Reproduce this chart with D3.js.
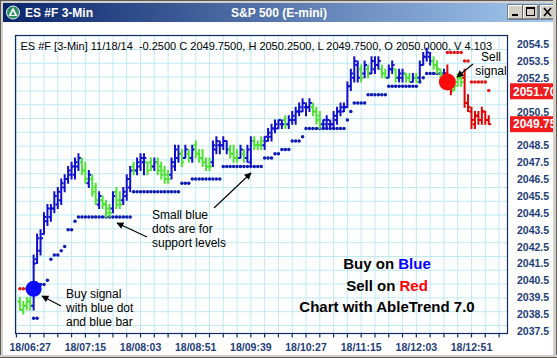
<!DOCTYPE html>
<html><head><meta charset="utf-8">
<script src="https://cdn.jsdelivr.net/npm/d3@7"></script>
<style>html,body{margin:0;padding:0;background:#fff;overflow:hidden}</style>
</head><body><svg id="c" width="557" height="358"></svg>
<script>
// ---------- data ----------
const windowTitle = "ES #F 3-Min";
const chartTitle = "S&P 500 (E-mini)";
const infoLine = "ES #F [3-Min] 11/18/14  -0.2500 C 2049.7500, H 2050.2500, L 2049.7500, O 2050.0000, V 4.103";
const startMinute = 378;   // first bar 06:18
const barStep = 3;         // 3-minute bars
const timeLabels = ["18/06:27","18/07:15","18/08:03","18/08:51","18/09:39","18/10:27","18/11:15","18/12:03","18/12:51"];
const priceLabels = [2054.5,2053.5,2052.5,2050.5,2048.5,2047.5,2046.5,2045.5,2044.5,2043.5,2042.5,2041.5,2040.5,2039.5,2038.5,2037.5];
const priceTags = [2051.70, 2049.75];
const priceTagText = ["2051.70","2049.75"];

const opens = [
2039.25,2038.75,2039.0,2039.25,2039.0,2041.75,2042.25,2043.25,2044.0,2044.25,
2044.75,2045.0,2045.25,2046.0,2046.5,2046.75,2046.75,2047.25,2047.5,2047.0,
2046.25,2046.5,2046.0,2045.0,2045.25,2045.0,2044.75,2044.75,2045.75,2045.25,
2045.25,2045.5,2046.0,2047.25,2047.0,2047.25,2047.5,2047.5,2047.5,2047.25,
2047.5,2047.25,2047.0,2046.75,2046.75,2047.25,2047.75,2048.0,2047.75,2048.0,
2047.75,2048.5,2048.0,2047.75,2047.5,2047.25,2047.5,2048.25,2048.5,2048.5,
2048.75,2048.25,2048.0,2047.75,2047.75,2048.0,2047.75,2047.5,2048.75,2048.5,
2048.5,2048.5,2048.75,2049.0,2049.5,2049.5,2049.75,2050.0,2049.75,2050.0,
2050.0,2050.5,2050.5,2050.75,2050.75,2050.75,2050.5,2050.25,2049.75,2049.75,
2049.75,2049.75,2050.0,2050.5,2050.5,2050.75,2052.0,2052.5,2053.25,2053.0,
2052.75,2053.0,2052.75,2053.0,2053.25,2053.0,2052.75,2052.5,2053.0,2053.0,
2052.5,2052.5,2052.75,2052.5,2052.25,2052.5,2052.5,2053.25,2053.75,2053.75,
2053.5,2053.25,2053.0,2052.5,2052.75,2052.0,2051.75,2052.25,2052.5,2052.5,
2051.0,2050.5,2049.75,2050.25,2050.0,2050.5,2050.0];
const highs = [
2039.5,2039.25,2039.5,2039.5,2042.0,2043.25,2043.5,2044.5,2045.0,2045.0,
2045.75,2046.0,2046.5,2046.75,2047.25,2047.5,2047.75,2048.0,2047.75,2047.5,
2047.0,2046.75,2046.25,2045.75,2045.5,2045.25,2045.0,2045.75,2046.0,2045.75,
2046.0,2046.75,2047.25,2047.5,2047.75,2048.0,2048.0,2047.5,2047.75,2047.75,
2047.75,2047.5,2047.25,2047.0,2047.75,2048.5,2048.5,2048.25,2048.5,2048.25,
2048.5,2048.75,2048.25,2048.25,2047.75,2047.75,2048.75,2049.0,2048.75,2049.0,
2048.75,2048.5,2048.5,2048.25,2048.5,2048.25,2048.5,2049.0,2049.0,2048.75,
2049.0,2049.0,2049.5,2049.75,2050.0,2050.0,2050.0,2050.25,2050.25,2050.5,
2050.75,2051.0,2051.25,2051.0,2051.25,2051.0,2050.75,2050.5,2050.0,2050.25,
2050.0,2050.5,2050.75,2051.0,2051.0,2052.25,2053.0,2053.75,2053.5,2053.25,
2053.5,2053.25,2053.75,2053.75,2053.75,2053.25,2053.0,2053.25,2053.5,2053.0,
2053.0,2053.0,2052.75,2052.75,2052.75,2052.75,2053.5,2054.0,2054.25,2054.0,
2053.75,2053.5,2053.0,2053.0,2053.25,2052.25,2052.25,2052.75,2052.75,2053.0,
2051.5,2050.75,2050.5,2050.5,2050.75,2050.5,2050.25];
const lows = [
2038.75,2038.5,2038.75,2038.75,2038.75,2041.5,2042.0,2043.25,2043.75,2044.0,
2044.5,2044.75,2045.0,2045.75,2046.25,2046.5,2046.5,2047.0,2046.75,2046.25,
2046.0,2045.5,2045.0,2044.75,2044.75,2044.25,2044.25,2044.5,2044.75,2044.75,
2045.0,2045.25,2045.75,2046.75,2046.75,2047.0,2046.75,2046.75,2047.0,2047.0,
2046.75,2046.5,2046.25,2046.25,2046.5,2047.0,2047.5,2047.25,2047.75,2047.5,
2047.5,2047.75,2047.5,2047.25,2047.0,2047.0,2047.25,2048.0,2048.0,2048.25,
2048.0,2047.75,2047.5,2047.5,2047.75,2047.5,2047.5,2047.25,2048.25,2048.25,
2048.25,2048.25,2048.75,2048.75,2049.25,2049.5,2049.5,2049.5,2049.5,2049.75,
2049.75,2050.25,2050.5,2050.25,2050.5,2050.25,2049.75,2049.5,2049.5,2049.5,
2049.5,2049.5,2049.75,2050.25,2050.5,2050.75,2051.75,2052.25,2052.25,2052.25,
2052.5,2052.5,2052.75,2052.75,2053.0,2052.5,2052.5,2052.5,2052.75,2052.25,
2052.25,2052.25,2052.25,2052.25,2052.25,2052.25,2052.25,2053.25,2053.5,2053.25,
2053.0,2052.75,2052.5,2052.25,2052.0,2051.5,2051.75,2052.0,2052.0,2050.75,
2050.5,2049.5,2049.5,2049.75,2049.75,2049.75,2049.75];
const closes = [
2038.75,2039.0,2039.25,2039.0,2041.5,2043.0,2043.0,2044.25,2044.75,2044.75,
2045.5,2045.75,2046.25,2046.5,2047.0,2047.25,2047.5,2047.75,2047.0,2046.5,
2046.75,2045.75,2045.25,2045.5,2045.0,2044.5,2044.5,2045.5,2045.0,2045.0,
2045.75,2046.5,2047.0,2047.0,2047.5,2047.75,2047.75,2047.0,2047.25,2047.5,
2047.0,2046.75,2046.5,2046.5,2047.5,2048.25,2048.0,2047.5,2048.25,2047.75,
2048.25,2048.0,2047.75,2047.5,2047.25,2047.25,2048.5,2048.75,2048.5,2048.75,
2048.25,2048.0,2047.75,2047.75,2048.25,2047.75,2048.25,2048.75,2048.5,2048.5,
2048.75,2049.0,2049.25,2049.5,2049.75,2050.0,2049.75,2049.75,2050.0,2050.25,
2050.5,2050.75,2051.0,2050.75,2051.0,2050.5,2050.0,2049.75,2050.0,2050.0,
2049.75,2050.25,2050.5,2050.75,2050.75,2052.0,2052.75,2053.5,2052.5,2052.5,
2053.25,2052.75,2053.5,2053.25,2053.5,2052.75,2052.5,2053.0,2053.25,2052.5,
2052.75,2052.75,2052.5,2052.25,2052.5,2052.25,2053.25,2053.75,2054.0,2053.5,
2053.25,2053.0,2052.75,2052.75,2052.25,2051.75,2052.0,2052.5,2052.25,2051.0,
2050.75,2050.0,2050.25,2050.0,2050.5,2050.0,2049.75];
// b = up trend (blue), g = correction (green), r = down trend (red)
const trend = "ggggbbbbbb"+"bbbbbbbbgg"+"bggbgggbgg"+"bbbgbbbggb"+"ggggbbbgbg"+
              "bgggggbbbb"+"bgggbgbbgg"+"gbbbbbbgbb"+"bbbbbgggbb"+"bbbbbbbbbg"+
              "bgbbbggbbg"+"bbggbgbbbb"+"gggbrrgggr"+"rrrrrrr";
const supportDots = [
null,null,null,null,2038.25,2038.25,2040.25,2040.25,2040.5,2041.75,
2042.0,2042.0,2042.25,2042.5,2043.5,2043.5,2044.0,2044.25,2044.25,2044.25,
2044.25,2044.25,2044.25,2044.25,2044.25,2044.25,2044.25,2044.25,2044.25,2044.25,
2044.25,2044.25,2044.25,2045.75,2045.75,2045.75,2045.75,2045.75,2045.75,2045.75,
2045.75,2045.75,2045.75,2045.75,2045.75,2045.75,2045.75,2046.25,2046.25,2046.25,
2046.5,2046.5,2046.5,2046.5,2046.5,2046.5,2046.5,2046.5,2046.5,2047.25,
2047.25,2047.25,2047.25,2047.25,2047.25,2047.25,2047.25,2047.25,2047.25,2047.25,
2047.25,2047.75,2047.75,2047.75,2048.0,2048.0,2048.25,2048.25,2048.25,2048.75,
2048.75,2048.75,2049.0,2049.5,2049.5,2049.5,2049.5,2049.5,2049.5,2049.5,
2049.5,2049.5,2049.5,2049.5,2049.5,2050.0,2050.5,2051.0,2051.0,2051.0,
2051.0,2051.5,2051.5,2051.5,2051.5,2051.5,2051.5,2052.0,2052.0,2052.0,
2052.0,2052.0,2052.0,2052.0,2052.0,2052.0,2052.25,2052.5,2052.75,2052.75,
2052.75,2052.75,2052.75,2052.75,null,null,null,null,null,null,
null,null,null,null,null,null,null];
const resistDots = [
2040.0,2040.0,2040.0,2040.0,null,null,null,null,null,null,
null,null,null,null,null,null,null,null,null,null,
null,null,null,null,null,null,null,null,null,null,
null,null,null,null,null,null,null,null,null,null,
null,null,null,null,null,null,null,null,null,null,
null,null,null,null,null,null,null,null,null,null,
null,null,null,null,null,null,null,null,null,null,
null,null,null,null,null,null,null,null,null,null,
null,null,null,null,null,null,null,null,null,null,
null,null,null,null,null,null,null,null,null,null,
null,null,null,null,null,null,null,null,null,null,
null,null,null,null,null,null,null,null,null,null,
null,null,null,null,2054.0,2054.0,2054.0,2054.0,2054.0,2053.5,
2053.5,2052.25,2052.25,2052.25,2052.25,2052.25,2051.75];
const buySignal = {bar: 4, value: 2040.0};
const sellSignal = {bar: 124, value: 2052.25};

// ---------- drawing ----------
const W = 557, H = 358;
const P = {l: 15, t: 35, r: 508, b: 333};
const FONT = "Arial, 'Liberation Sans', Helvetica, sans-serif";
const colors = {b: "#1010cc", g: "#4ee236", r: "#e00000"};
const dotBlue = "#0b1bb4", dotRed = "#e41414";
const axisColor = "#1d3d7a";

const svg = d3.select("#c");
const toMin = s => { const t = s.split("/")[1].split(":"); return +t[0]*60 + +t[1]; };
const x = d3.scaleLinear().domain([toMin(timeLabels[0]), toMin(timeLabels[timeLabels.length-1])]).range([30.2, 471.5]);
const y = d3.scaleLinear().domain([2037.5, 2054.5]).range([331, 44]);
const bx = i => x(startMinute + barStep * i);

const defs = svg.append("defs");
const grad = defs.append("linearGradient").attr("id", "tb").attr("x1", 0).attr("x2", 1);
grad.append("stop").attr("offset", 0).attr("stop-color", "#0a246a");
grad.append("stop").attr("offset", 1).attr("stop-color", "#a6caf0");
defs.append("clipPath").attr("id", "pc").append("rect")
  .attr("x", P.l).attr("y", P.t).attr("width", P.r - P.l).attr("height", P.b - P.t);
const mk = defs.append("marker").attr("id", "ah").attr("viewBox", "0 0 10 10")
  .attr("refX", 9).attr("refY", 5).attr("markerWidth", 9).attr("markerHeight", 7)
  .attr("orient", "auto").attr("markerUnits", "userSpaceOnUse");
mk.append("path").attr("d", "M0,0 L10,5 L0,10 Z").attr("fill", "#000");

// window frame
svg.append("rect").attr("width", W).attr("height", H).attr("fill", "#5c5c5c");
svg.append("rect").attr("x", 1).attr("y", 1).attr("width", W - 2).attr("height", H - 2).attr("fill", "#d4d0c8");
svg.append("rect").attr("x", 3).attr("y", 22).attr("width", W - 6).attr("height", H - 25).attr("fill", "#fff");
svg.append("rect").attr("x", 3).attr("y", 3).attr("width", W - 6).attr("height", 19).attr("fill", "url(#tb)");
// icon
svg.append("circle").attr("cx", 13).attr("cy", 12.5).attr("r", 6.5).attr("fill", "#2f8f6a").attr("stroke", "#e8f5ee").attr("stroke-width", 1);
svg.append("path").attr("d", "M13,7.5 L17.5,16 L8.5,16 Z").attr("fill", "#fff");
svg.append("path").attr("d", "M13,11 L15,15 L11,15 Z").attr("fill", "#2f8f6a");
svg.append("text").attr("x", 25).attr("y", 17).attr("fill", "#fff")
  .attr("font-family", FONT).attr("font-weight", "bold").attr("font-size", 12).text(windowTitle);
svg.append("text").attr("x", 279).attr("y", 17).attr("fill", "#fff").attr("text-anchor", "middle")
  .attr("font-family", FONT).attr("font-weight", "bold").attr("font-size", 12).text(chartTitle);
// window buttons
[[508, "min"], [523, "max"], [540, "close"]].forEach(([bx0, k]) => {
  const g = svg.append("g");
  g.append("rect").attr("x", bx0).attr("y", 5).attr("width", 15).attr("height", 14).attr("fill", "#d4d0c8")
    .attr("stroke", "#404040").attr("stroke-width", 1);
  g.append("path").attr("d", `M${bx0+0.5},${18.5} V5.5 H${bx0+14.5}`).attr("stroke", "#fff").attr("fill", "none");
  if (k === "min") g.append("rect").attr("x", bx0 + 4).attr("y", 14).attr("width", 6).attr("height", 2).attr("fill", "#000");
  if (k === "max") g.append("rect").attr("x", bx0 + 3.5).attr("y", 7.5).attr("width", 8).attr("height", 8)
    .attr("fill", "none").attr("stroke", "#000").attr("stroke-width", 1);
  if (k === "max") g.append("line").attr("x1", bx0 + 3.5).attr("x2", bx0 + 11.5).attr("y1", 8.5).attr("y2", 8.5).attr("stroke", "#000");
  if (k === "close") g.append("path").attr("d", `M${bx0+4},8 L${bx0+11},16 M${bx0+11},8 L${bx0+4},16`)
    .attr("stroke", "#000").attr("stroke-width", 1.6);
});

// grid
const tickMinutes = d3.range(375, 800, 12);
const grid = svg.append("g").attr("clip-path", "url(#pc)");
tickMinutes.forEach(m => grid.append("line").attr("x1", x(m)).attr("x2", x(m)).attr("y1", P.t).attr("y2", P.b)
  .attr("stroke", "#bfeaf4").attr("stroke-width", 1));
d3.range(P.b - 7.5, P.t, -13.8).forEach(yy => grid.append("line").attr("x1", P.l).attr("x2", P.r)
  .attr("y1", yy).attr("y2", yy).attr("stroke", "#bfeaf4").attr("stroke-width", 1));

// info line
svg.append("text").attr("x", 20.5).attr("y", 50).attr("font-family", FONT).attr("font-size", 11)
  .attr("fill", "#000").style("white-space", "pre").attr("clip-path", "url(#pc)").text(infoLine);

const plot = svg.append("g").attr("clip-path", "url(#pc)");
// dots
supportDots.forEach((v, i) => { if (v !== null) plot.append("circle").attr("cx", bx(i)).attr("cy", y(v)).attr("r", 1.75).attr("fill", dotBlue); });
resistDots.forEach((v, i) => { if (v !== null) plot.append("circle").attr("cx", bx(i)).attr("cy", y(v)).attr("r", 1.75).attr("fill", dotRed); });
// bars
opens.forEach((o, i) => {
  const xc = bx(i);
  const d = `M${xc},${y(highs[i]) - 0.5}V${y(lows[i]) + 0.5}M${xc - 2.4},${y(o)}H${xc}M${xc},${y(closes[i])}H${xc + 2.4}`;
  plot.append("path").attr("d", d).attr("stroke", colors[trend[i]]).attr("stroke-width", 2).attr("fill", "none");
});
// signals
plot.append("circle").attr("cx", bx(buySignal.bar)).attr("cy", y(buySignal.value)).attr("r", 8).attr("fill", "#0a0aff");
plot.append("circle").attr("cx", bx(sellSignal.bar)).attr("cy", y(sellSignal.value)).attr("r", 8.5).attr("fill", "#ff0808");

// plot border
svg.append("rect").attr("x", P.l + 0.5).attr("y", P.t + 0.5).attr("width", P.r - P.l - 1).attr("height", P.b - P.t)
  .attr("fill", "none").attr("stroke", "#0e2c63").attr("stroke-width", 1.2);

// x ticks and labels
tickMinutes.filter(m => x(m) > P.l && x(m) < P.r).forEach(m => svg.append("line")
  .attr("x1", x(m)).attr("x2", x(m)).attr("y1", P.b).attr("y2", P.b + 4.5).attr("stroke", "#0e2c63").attr("stroke-width", 1.2));
timeLabels.forEach(s => svg.append("text").attr("x", x(toMin(s))).attr("y", 351).attr("text-anchor", "middle")
  .attr("font-family", FONT).attr("font-weight", "bold").attr("font-size", 10.5).attr("fill", axisColor).text(s));

// y labels
priceLabels.forEach(v => svg.append("text").attr("x", 517).attr("y", y(v) + 4).attr("font-family", FONT)
  .attr("font-weight", "bold").attr("font-size", 10.5).attr("fill", axisColor).text(v.toFixed(1)));
priceTags.forEach((v, k) => {
  svg.append("rect").attr("x", 510).attr("y", y(v) - 8).attr("width", 47).attr("height", 16).attr("fill", "#ee1c1c");
  svg.append("text").attr("x", 513).attr("y", y(v) + 4.3).attr("font-family", FONT).attr("font-weight", "bold")
    .attr("font-size", 12).attr("fill", "#fff").text(priceTagText[k]);
});

// annotations
const ann = (lines, x0, y0, dy, anchor) => lines.forEach((t, k) => svg.append("text").attr("x", x0).attr("y", y0 + k * dy)
  .attr("text-anchor", anchor || "start").attr("font-family", FONT).attr("font-size", 12).attr("fill", "#000").text(t));
ann(["Buy signal", "with blue dot", "and blue bar"], 66, 298, 14);
ann(["Small blue", "dots are for", "support levels"], 152, 219, 14);
ann(["Sell", "signal"], 491, 61, 14, "middle");
const arrow = (x1, y1, x2, y2) => svg.append("line").attr("x1", x1).attr("y1", y1).attr("x2", x2).attr("y2", y2)
  .attr("stroke", "#000").attr("stroke-width", 1.1).attr("marker-end", "url(#ah)");
arrow(61, 306, 42, 296);
arrow(147, 237, 117, 223);
arrow(214, 208, 251, 173);
arrow(473, 64, 457, 77);

const big = svg.append("text").attr("x", 387).attr("y", 269).attr("text-anchor", "middle")
  .attr("font-family", FONT).attr("font-weight", "bold").attr("font-size", 15).attr("fill", "#000");
big.append("tspan").text("Buy on ");
big.append("tspan").attr("fill", "#0000ff").text("Blue");
const big2 = svg.append("text").attr("x", 387).attr("y", 291).attr("text-anchor", "middle")
  .attr("font-family", FONT).attr("font-weight", "bold").attr("font-size", 15).attr("fill", "#000");
big2.append("tspan").text("Sell on ");
big2.append("tspan").attr("fill", "#ff0000").text("Red");
svg.append("text").attr("x", 387).attr("y", 312).attr("text-anchor", "middle")
  .attr("font-family", FONT).attr("font-weight", "bold").attr("font-size", 15).attr("fill", "#000").text("Chart with AbleTrend 7.0");

// right & bottom frame on top
svg.append("rect").attr("x", W - 4).attr("y", 0).attr("width", 4).attr("height", H).attr("fill", "#d4d0c8");
svg.append("line").attr("x1", W - 0.5).attr("x2", W - 0.5).attr("y1", 0).attr("y2", H).attr("stroke", "#5c5c5c");
svg.append("rect").attr("x", 0).attr("y", H - 3).attr("width", W).attr("height", 3).attr("fill", "#d4d0c8");
svg.append("line").attr("x1", 0).attr("x2", W).attr("y1", H - 0.5).attr("y2", H - 0.5).attr("stroke", "#5c5c5c");
</script></body></html>
